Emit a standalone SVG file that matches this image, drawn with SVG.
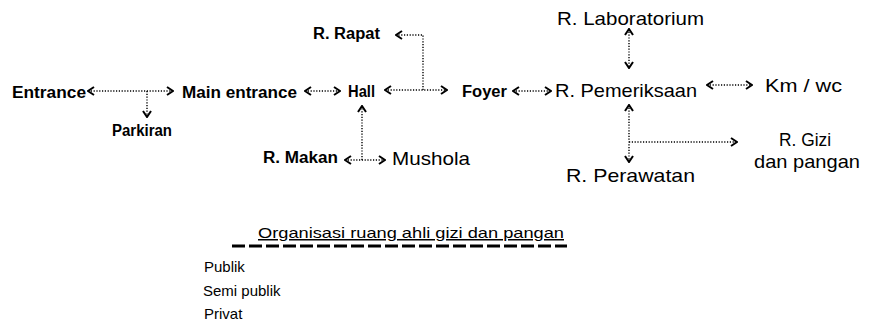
<svg xmlns="http://www.w3.org/2000/svg" width="873" height="322" viewBox="0 0 873 322">
  <style>
    text { font-family: "Liberation Sans", Arial, sans-serif; fill: #000; }
    .b { font-weight: bold; font-size: 16px; }
    .n { font-size: 19px; }
    .s { font-size: 15px; }
    .link { fill: none; stroke: #000; stroke-width: 1.4; stroke-dasharray: 1.2 1.6; }
    .dash { fill: none; stroke: #000; stroke-width: 3; stroke-dasharray: 13 4; }
  </style>
  <defs>
    <marker id="chev" viewBox="0 0 8 10" refX="7" refY="5" markerWidth="8" markerHeight="10" markerUnits="userSpaceOnUse" orient="auto-start-reverse">
      <path d="M1,1 L7,5 L1,9" fill="none" stroke="#000" stroke-width="2"/>
    </marker>
  </defs>
  <rect width="873" height="322" fill="#fff"/>

  <!-- rooms -->
  <g id="entrance"><text class="b" x="12" y="98" textLength="74" lengthAdjust="spacingAndGlyphs">Entrance</text></g>
  <g id="parkiran"><text class="b" x="112" y="136" textLength="60" lengthAdjust="spacingAndGlyphs">Parkiran</text></g>
  <g id="main-entrance"><text class="b" x="182" y="98" textLength="115" lengthAdjust="spacingAndGlyphs">Main entrance</text></g>
  <g id="hall"><text class="b" x="348" y="97" textLength="27" lengthAdjust="spacingAndGlyphs">Hall</text></g>
  <g id="rapat"><text class="b" x="313" y="39" textLength="67" lengthAdjust="spacingAndGlyphs">R. Rapat</text></g>
  <g id="makan"><text class="b" x="263" y="163" textLength="75" lengthAdjust="spacingAndGlyphs">R. Makan</text></g>
  <g id="mushola"><text class="n" x="392" y="165" textLength="78" lengthAdjust="spacingAndGlyphs">Mushola</text></g>
  <g id="foyer"><text class="b" x="462" y="97" textLength="45" lengthAdjust="spacingAndGlyphs">Foyer</text></g>
  <g id="laboratorium"><text class="n" x="557" y="25" textLength="147" lengthAdjust="spacingAndGlyphs">R. Laboratorium</text></g>
  <g id="pemeriksaan"><text class="n" x="555" y="97" textLength="142" lengthAdjust="spacingAndGlyphs">R. Pemeriksaan</text></g>
  <g id="kmwc"><text class="n" x="765" y="92" textLength="77" lengthAdjust="spacingAndGlyphs">Km / wc</text></g>
  <g id="gizi">
    <text class="n" x="779" y="146" textLength="52" lengthAdjust="spacingAndGlyphs">R. Gizi</text>
    <text class="n" x="754" y="168" textLength="106" lengthAdjust="spacingAndGlyphs">dan pangan</text>
  </g>
  <g id="perawatan"><text class="n" x="566" y="182" textLength="129" lengthAdjust="spacingAndGlyphs">R. Perawatan</text></g>

  <!-- connectors -->
  <g id="connectors">
    <path class="link" d="M88,91 H173" marker-start="url(#chev)" marker-end="url(#chev)"/>
    <path class="link" d="M147,91 V117" marker-end="url(#chev)"/>
    <path class="link" d="M305,91 H340" marker-start="url(#chev)" marker-end="url(#chev)"/>
    <path class="link" d="M385,90 H447" marker-start="url(#chev)" marker-end="url(#chev)"/>
    <path class="link" d="M423,90 V35 H396" marker-end="url(#chev)"/>
    <path class="link" d="M362,160 V106" marker-end="url(#chev)"/>
    <path class="link" d="M345,160 H385" marker-start="url(#chev)" marker-end="url(#chev)"/>
    <path class="link" d="M513,91 H551" marker-start="url(#chev)" marker-end="url(#chev)"/>
    <path class="link" d="M629,29 V68" marker-start="url(#chev)" marker-end="url(#chev)"/>
    <path class="link" d="M707,85 H752" marker-start="url(#chev)" marker-end="url(#chev)"/>
    <path class="link" d="M629,105 V162" marker-start="url(#chev)" marker-end="url(#chev)"/>
    <path class="link" d="M629,142 H737" marker-end="url(#chev)"/>
  </g>

  <!-- caption and legend -->
  <g id="caption">
    <text class="s" x="258" y="238" textLength="306" lengthAdjust="spacingAndGlyphs" text-decoration="underline">Organisasi ruang ahli gizi dan pangan</text>
    <path class="dash" d="M232,246 H567"/>
  </g>
  <g id="legend">
    <text class="s" x="204" y="272">Publik</text>
    <text class="s" x="203" y="296">Semi publik</text>
    <text class="s" x="204" y="319">Privat</text>
  </g>
</svg>
